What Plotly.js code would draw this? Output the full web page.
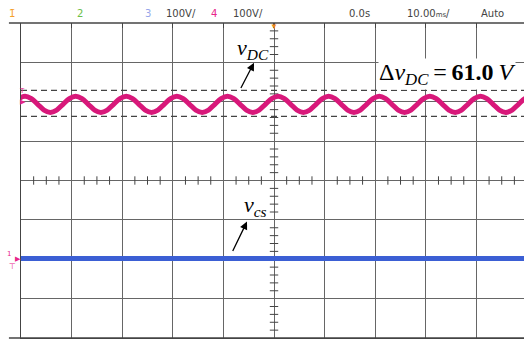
<!DOCTYPE html>
<html>
<head>
<meta charset="utf-8">
<script src="https://cdn.plot.ly/plotly-3.0.1.min.js"></script>
<style>html,body{margin:0;padding:0;background:#fff;}#chart{width:524px;height:339px;}</style>
</head>
<body>
<div id="chart"></div>
<script>
// time in ms (10 ms/div), voltage in V (100 V/div)
const tWave = [-51.7,-50.45,-49.2,-47.95,-46.7,-45.45,-44.2,-42.95,
  -41.7,-40.45,-39.2,-37.95,-36.7,-35.45,-34.2,-32.95,
  -31.7,-30.45,-29.2,-27.95,-26.7,-25.45,-24.2,-22.95,
  -21.7,-20.45,-19.2,-17.95,-16.7,-15.45,-14.2,-12.95,
  -11.7,-10.45,-9.2,-7.95,-6.7,-5.45,-4.2,-2.95,
  -1.7,-0.45,0.8,2.05,3.3,4.55,5.8,7.05,
  8.3,9.55,10.8,12.05,13.3,14.55,15.8,17.05,
  18.3,19.55,20.8,22.05,23.3,24.55,25.8,27.05,
  28.3,29.55,30.8,32.05,33.3,34.55,35.8,37.05,
  38.3,39.55,40.8,42.05,43.3,44.55,45.8,47.05,
  48.3,49.55,50.8];
const vDC = [393.5,408,414,408,393.5,379,373,379,
  393.5,408,414,408,393.5,379,373,379,
  393.5,408,414,408,393.5,379,373,379,
  393.5,408,414,408,393.5,379,373,379,
  393.5,408,414,408,393.5,379,373,379,
  393.5,408,414,408,393.5,379,373,379,
  393.5,408,414,408,393.5,379,373,379,
  393.5,408,414,408,393.5,379,373,379,
  393.5,408,414,408,393.5,379,373,379,
  393.5,408,414,408,393.5,379,373,379,
  393.5,408,414];
const tCs = [-50, 49.4];
const vCs = [2, 2];
const dashLevels = [429, 363];
const rippleLabel = "61.0";
const topLabels = ["1\u0304", "2", "3", "100V/", "4", "100V/", "0.0s", "10.00<span style='font-size:7px'>ms</span>/", "Auto"];

const xRange = [-50, 49.4];
const yRange = [-200, 600];

// minor ticks on the centre cross
const minorX = [], minorXy = [];
for (let t = -50; t <= 50; t += 2.5) { if (Math.abs(t % 10) > 0.01) { minorX.push(t); minorXy.push(200); } }
const minorY = [], minorYx = [];
for (let v = -200; v <= 600; v += 20) { if (Math.abs(v % 100) > 0.01) { minorY.push(v); minorYx.push(0); } }

const traces = [
  {x: minorX, y: minorXy, mode: 'markers', type: 'scatter', hoverinfo: 'skip',
   marker: {symbol: 'line-ns', size: 6, line: {width: 1, color: '#444'}}},
  {x: minorYx, y: minorY, mode: 'markers', type: 'scatter', hoverinfo: 'skip',
   marker: {symbol: 'line-ew', size: 6, line: {width: 1, color: '#444'}}},
  {x: tCs, y: vCs, mode: 'lines', type: 'scatter', line: {color: '#3b5fd4', width: 5}},
  {x: tWave, y: vDC, mode: 'lines', type: 'scatter', line: {color: '#d8187a', width: 5, shape: 'spline'}}
];

const shapes = dashLevels.map(v => ({type: 'line', xref: 'paper', x0: 0, x1: 1, yref: 'y', y0: v, y1: v,
  line: {color: '#444', width: 1.3, dash: '6px,4px'}}));
shapes.push({type: 'line', xref: 'paper', x0: -0.024, x1: 1, yref: 'paper', y0: 1, y1: 1, line: {color: '#444', width: 1.3}});
shapes.push({type: 'line', xref: 'paper', x0: -0.024, x1: 1, yref: 'paper', y0: 0, y1: 0, line: {color: '#444', width: 1.3}});

function pxX(px) { return (px - 21) / 503; }
function pxY(py) { return (338 - py) / 315; }
const topFont = {family: 'DejaVu Sans', size: 10, color: '#444'};
const topColors = ['#f5a02a', '#6cc04a', '#97a6ea', '#444', '#e8258a', '#444', '#444', '#444', '#444'];
const topPos = [12, 80, 147.5, 164, 213.5, 231, 347, 405, 479];
const topAnchor = ['center', 'center', 'center', 'left', 'center', 'left', 'left', 'left', 'left'];
const annotations = topLabels.map((s, i) => ({
  text: s, xref: 'paper', yref: 'paper', x: pxX(topPos[i]), y: pxY(13.5), xanchor: topAnchor[i], yanchor: 'middle',
  showarrow: false, font: Object.assign({}, topFont, {color: topColors[i]})
}));
annotations.push({text: '\u25BC', xref: 'paper', yref: 'paper', x: pxX(274), y: pxY(25.5), showarrow: false,
  font: {size: 8, color: '#f08a1c'}, xanchor: 'center', yanchor: 'middle'});
annotations.push({text: 'T', xref: 'paper', yref: 'paper', x: pxX(16.5), y: pxY(84.5), showarrow: false,
  font: {family: 'DejaVu Sans', size: 7, color: '#e8258a'}});
annotations.push({text: '\u25B6', xref: 'paper', yref: 'paper', x: pxX(18), y: pxY(95), showarrow: false,
  font: {size: 7, color: '#e8258a'}});
annotations.push({text: '1', xref: 'paper', yref: 'paper', x: pxX(9), y: pxY(254), showarrow: false,
  xanchor: 'center', yanchor: 'middle', font: {family: 'DejaVu Sans', size: 7, color: '#e8258a'}});
annotations.push({text: '\u22A4', xref: 'paper', yref: 'paper', x: pxX(12), y: pxY(266), showarrow: false,
  xanchor: 'center', yanchor: 'middle', font: {family: 'DejaVu Sans', size: 8, color: '#e8258a'}});
annotations.push({text: '\u25B6', xref: 'paper', yref: 'paper', x: pxX(18), y: pxY(258), showarrow: false,
  xanchor: 'center', yanchor: 'middle', font: {size: 7, color: '#e8258a'}});

const serif = 'Liberation Serif';
annotations.push({text: '<i>v</i><sub><i>DC</i></sub>', x: -4.15, y: 534, xref: 'x', yref: 'y', showarrow: false,
  font: {family: serif, size: 22, color: '#000'}});
annotations.push({text: '', x: -3.95, y: 499, ax: -6.7, ay: 431, xref: 'x', yref: 'y', axref: 'x', ayref: 'y',
  showarrow: true, arrowhead: 2, arrowsize: 1.2, arrowwidth: 1.3, arrowcolor: '#000'});
annotations.push({text: '\u0394<i>v</i><sub><i>DC</i></sub>\u2009=\u2009<b>' + rippleLabel + '</b>\u2009<i>V</i>', x: 20.55, y: 471,
  xref: 'x', yref: 'y', xanchor: 'left', yanchor: 'middle', showarrow: false, bgcolor: '#fff', borderpad: 0,
  font: {family: serif, size: 24, color: '#000'}});
annotations.push({text: '<i>v</i><sub><i>cs</i></sub>', x: -3.75, y: 136, xref: 'x', yref: 'y', showarrow: false,
  font: {family: serif, size: 22, color: '#000'}});
annotations.push({text: '', x: -5.34, y: 95.7, ax: -8.3, ay: 17, xref: 'x', yref: 'y', axref: 'x', ayref: 'y',
  showarrow: true, arrowhead: 2, arrowsize: 1.2, arrowwidth: 1.3, arrowcolor: '#000'});

const layout = {
  width: 524, height: 339, autosize: false,
  margin: {l: 21, r: 0, t: 23, b: 1, pad: 0},
  paper_bgcolor: '#fff', plot_bgcolor: '#fff', showlegend: false,
  xaxis: {range: xRange, tick0: 0, dtick: 10, showgrid: true, gridcolor: '#666', gridwidth: 1,
    zeroline: false, showticklabels: false, showline: true, linecolor: '#444', linewidth: 1.3, ticks: '', fixedrange: true},
  xaxis2: {range: xRange, overlaying: 'x', side: 'top', tick0: 0, dtick: 10, showgrid: false, zeroline: false,
    showticklabels: false, showline: false, ticks: 'inside', ticklen: 5, tickcolor: '#444', tickwidth: 1.3},
  yaxis: {range: yRange, tick0: 0, dtick: 100, showgrid: true, gridcolor: '#666', gridwidth: 1,
    zeroline: false, showticklabels: false, showline: true, linecolor: '#444', linewidth: 1.3, ticks: '', fixedrange: true},
  shapes: shapes, annotations: annotations
};
// dummy trace to show top axis ticks
traces.push({x: [0], y: [0], xaxis: 'x2', mode: 'markers', marker: {opacity: 0}, hoverinfo: 'skip'});

Plotly.newPlot('chart', traces, layout, {staticPlot: true, displayModeBar: false});
</script>
</body>
</html>
